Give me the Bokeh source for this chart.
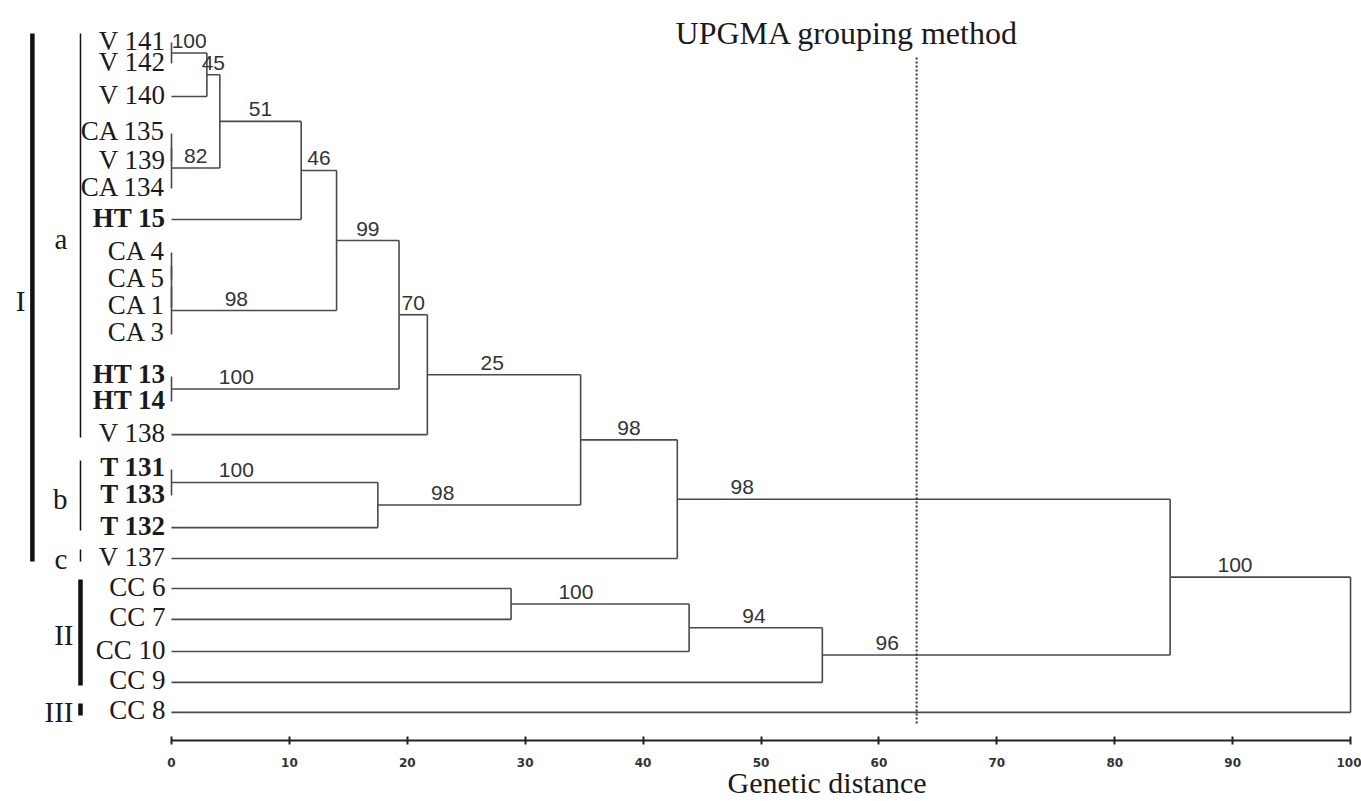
from bokeh.plotting import figure
from bokeh.models import Range1d, FixedTicker, ColumnDataSource
from bokeh.core.properties import value
from bokeh.embed import file_html
from bokeh.resources import INLINE

# ---------------- data ----------------
leaf_names = ["V 141", "V 142", "V 140", "CA 135", "V 139", "CA 134", "HT 15",
              "CA 4", "CA 5", "CA 1", "CA 3", "HT 13", "HT 14", "V 138",
              "T 131", "T 133", "T 132", "V 137",
              "CC 6", "CC 7", "CC 10", "CC 9", "CC 8"]
# leaf row positions (top to bottom)
leaf_rows = [1.10, 1.80, 2.90, 4.13, 5.07, 5.97, 7.00,
             8.10, 9.00, 9.93, 10.83, 12.23, 13.07, 14.17,
             15.33, 16.20, 17.27, 18.30,
             19.30, 20.33, 21.40, 22.43, 23.43]
bold_leaves = ["HT 15", "HT 13", "HT 14", "T 131", "T 133", "T 132"]

# UPGMA merges: id, left child, right child, distance, bootstrap support
node_ids    = ["n1", "n2", "n3", "n4", "n5", "n6", "n7", "n8", "n9", "n10",
               "n11", "n12", "n13", "n14", "n15", "n16", "n17",
               "n18", "n19", "n20", "n21", "n22"]
node_left   = ["V 141", "n1", "CA 135", "n3", "n2", "n5", "CA 4", "n7", "n8", "n6",
               "HT 13", "n10", "n12", "T 131", "n14", "n13", "n16",
               "CC 6", "n18", "n19", "n17", "n21"]
node_right  = ["V 142", "V 140", "V 139", "CA 134", "n4", "HT 15", "CA 5", "CA 1", "CA 3", "n9",
               "HT 14", "n11", "V 138", "T 133", "T 132", "n15", "V 137",
               "CC 7", "CC 10", "CC 9", "n20", "CC 8"]
node_height = [0.0, 3.0, 0.0, 0.0, 4.1, 11.0, 0.0, 0.0, 0.0, 14.0,
               0.0, 19.3, 21.7, 0.0, 17.5, 34.7, 42.9,
               28.8, 43.9, 55.2, 84.7, 100.0]
node_support = ["100", "45", "", "82", "51", "46", "", "", "98", "99",
                "100", "70", "25", "100", "98", "98", "98",
                "100", "94", "96", "100", ""]

group_names = ["I", "a", "b", "c", "II", "III"]
group_first = ["V 141", "V 141", "T 131", "V 137", "CC 6", "CC 8"]
group_last  = ["V 137", "V 138", "T 132", "V 137", "CC 9", "CC 8"]
group_level = [1, 2, 2, 2, 2, 2]
group_major = [True, False, False, False, True, True]

axis_ticks = [0, 10, 20, 30, 40, 50, 60, 70, 80, 90, 100]
cutoff_distance = 63.2
title_text = "UPGMA grouping method"
axis_title = "Genetic distance"

# ---------------- layout / computation ----------------
pos = {n: (0.0, r) for n, r in zip(leaf_names, leaf_rows)}
parent_h = {}
for nid, l, r, h in zip(node_ids, node_left, node_right, node_height):
    parent_h[l] = h
    parent_h[r] = h
for nid, l, r, h in zip(node_ids, node_left, node_right, node_height):
    pos[nid] = (h, (pos[l][1] + pos[r][1]) / 2.0)

sx0, sx1, sy0, sy1 = [], [], [], []
for nid, l, r, h in zip(node_ids, node_left, node_right, node_height):
    yl, yr = pos[l][1], pos[r][1]
    sx0.append(h); sx1.append(h); sy0.append(yl); sy1.append(yr)
    for c in (l, r):
        cx, cy = pos[c]
        if h - cx > 0:
            sx0.append(cx); sx1.append(h); sy0.append(cy); sy1.append(cy)

lab_x, lab_y, lab_t = [], [], []
for nid, h, s in zip(node_ids, node_height, node_support):
    if s and nid in parent_h:
        stem = parent_h[nid] - h
        lab_x.append(h + min(stem / 2.0, 5.5))
        lab_y.append(pos[nid][1])
        lab_t.append(s)

idx = {n: i for i, n in enumerate(leaf_names)}
g_x = {1: -11.8, 2: -7.72}
gb_x, gb_y0, gb_y1, gb_w = [], [], [], []
gl_x, gl_y, gl_t, gl_off = [], [], [], []
for name, f, l, lev, maj in zip(group_names, group_first, group_last, group_level, group_major):
    y0 = leaf_rows[idx[f]] - 0.3
    y1 = leaf_rows[idx[l]] + 0.1
    gb_x.append(g_x[lev]); gb_y0.append(y0); gb_y1.append(y1)
    gb_w.append(4.5 if maj else 1.5)
    gl_x.append(g_x[lev]); gl_y.append((y0 + y1) / 2.0 + 0.1); gl_t.append(name)
    gl_off.append(-7 if maj else -13)

axis_row = 24.367   # row at which the distance axis is drawn

# ---------------- figure ----------------
p = figure(width=1361, height=801,
           x_range=Range1d(-14.504, 100.93),
           y_range=Range1d(26.4, -0.3),
           output_backend="svg", toolbar_location=None,
           y_axis_location=None,
           min_border_left=0, min_border_right=0, min_border_top=0,
           min_border_bottom=0)
p.grid.visible = False
p.outline_line_color = None
p.background_fill_color = "white"
p.border_fill_color = "white"

ax = p.xaxis[0]
ax.fixed_location = axis_row
ax.ticker = FixedTicker(ticks=axis_ticks)
ax.bounds = (0, 100)
ax.major_tick_in = 4
ax.major_tick_out = 4
ax.minor_tick_line_color = None
ax.axis_line_width = 2
ax.axis_line_color = "#222222"
ax.major_tick_line_width = 2
ax.major_tick_line_color = "#222222"
ax.major_label_text_font = "DejaVu Sans"
ax.major_label_text_font_size = "12px"
ax.major_label_text_font_style = "bold"
ax.major_label_text_color = "#333333"
ax.major_label_standoff = 13

# tree
p.segment(x0=sx0, y0=sy0, x1=sx1, y1=sy1, line_color="#4a4a4a", line_width=1.6)

# cutoff line
p.segment(x0=[cutoff_distance], y0=[1.6], x1=[cutoff_distance], y1=[23.87],
          line_color="#333333", line_width=2, line_dash="2 2")

# bootstrap labels
p.text(x=lab_x, y=lab_y, text=lab_t, text_align="center", text_baseline="middle",
       y_offset=-12, text_font=value("Liberation Sans"), text_font_size="21px",
       text_color="#333333")

# leaf labels
norm = [i for i, n in enumerate(leaf_names) if n not in bold_leaves]
bold = [i for i, n in enumerate(leaf_names) if n in bold_leaves]
for sel, style in ((norm, "normal"), (bold, "bold")):
    p.text(x=[0.0] * len(sel), y=[leaf_rows[i] for i in sel],
           text=[leaf_names[i] for i in sel], text_align="right", text_baseline="middle",
           x_offset=-6, y_offset=-2, text_font=value("Liberation Serif"),
           text_font_size="27px", text_font_style=style, text_color="#1a1a1a")

# group bars & labels
src = ColumnDataSource(dict(x=gb_x, y0=gb_y0, y1=gb_y1, w=gb_w))
p.segment(x0="x", y0="y0", x1="x", y1="y1", line_width="w", line_color="#111111", source=src)
for x, y, t, off in zip(gl_x, gl_y, gl_t, gl_off):
    p.text(x=[x], y=[y], text=[t], text_align="right", text_baseline="middle",
           x_offset=off, text_font=value("Liberation Serif"), text_font_size="29px",
           text_color="#1a1a1a")

# title and axis title
p.text(x=[57.3], y=[0.78], text=[title_text], text_align="center",
       text_baseline="middle", text_font=value("Liberation Serif"),
       text_font_size="32px", text_color="#1a1a1a")
p.text(x=[55.6], y=[25.75], text=[axis_title], text_align="center",
       text_baseline="middle", text_font=value("Liberation Serif"),
       text_font_size="30px", text_color="#1a1a1a")

open("out.html", "w").write(file_html(p, INLINE))
